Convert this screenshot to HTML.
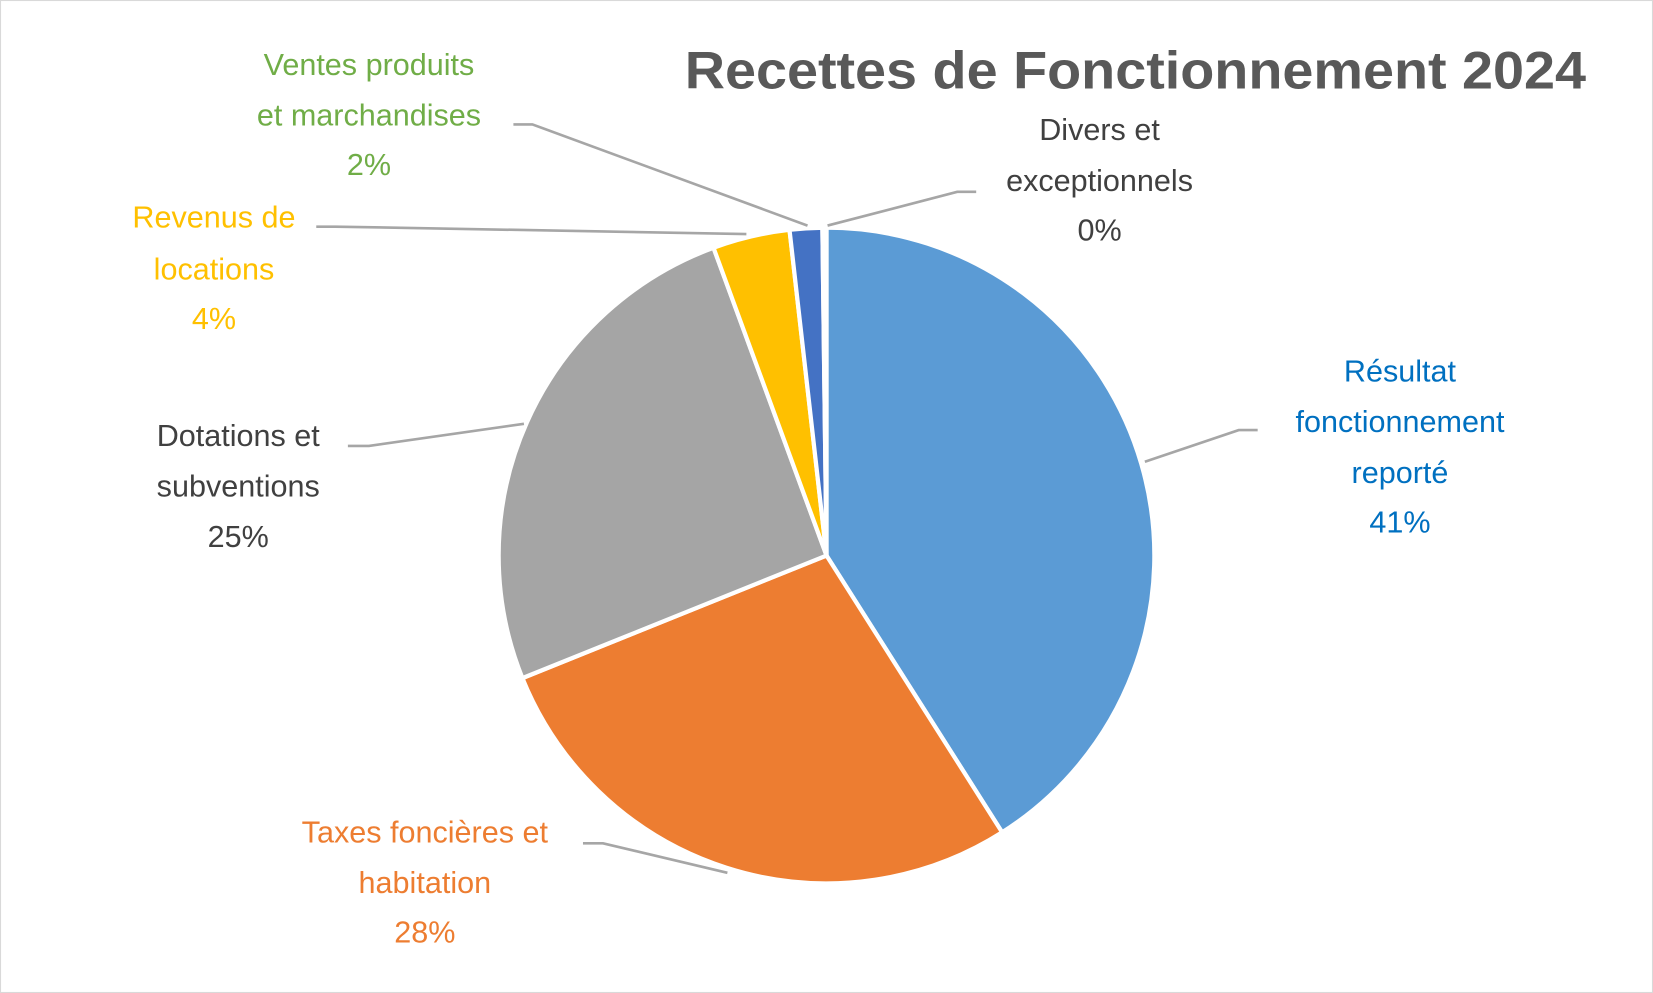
<!DOCTYPE html>
<html><head><meta charset="utf-8"><style>
html,body{margin:0;padding:0;background:#fff;}
svg{display:block;}
text{font-family:"Liberation Sans",sans-serif;}
</style></head><body>
<svg id="chart" width="1653" height="993" viewBox="0 0 1568 942" preserveAspectRatio="none" xmlns="http://www.w3.org/2000/svg">
<rect x="0.5" y="0.5" width="1567" height="941" fill="#fff" stroke="#d9d9d9" stroke-width="1"/>
<text x="1077" y="84" text-anchor="middle" font-size="50" font-weight="bold" fill="#595959" textLength="855" lengthAdjust="spacingAndGlyphs">Recettes de Fonctionnement 2024</text>
<g id="slices"></g>
<g id="leaders" fill="none" stroke="#a6a6a6" stroke-width="2.5">
<polyline points="487,118 505,118 766,214"/>
<polyline points="300,215 318,215 708,222"/>
<polyline points="330,423 350,423 497,402"/>
<polyline points="553,800 572,800 690,828"/>
<polyline points="926,182 908,182 785,214"/>
<polyline points="1193,408 1175,408 1086,438"/>
</g>
<g font-size="29" text-anchor="middle">
<text fill="#70AD47"><tspan x="350" y="71">Ventes produits</tspan><tspan x="350" y="119">et marchandises</tspan><tspan x="350" y="166">2%</tspan></text>
<text fill="#FFC000"><tspan x="203" y="216">Revenus de</tspan><tspan x="203" y="265">locations</tspan><tspan x="203" y="312">4%</tspan></text>
<text fill="#404040"><tspan x="226" y="423">Dotations et</tspan><tspan x="226" y="471">subventions</tspan><tspan x="226" y="519">25%</tspan></text>
<text fill="#ED7D31"><tspan x="403" y="799">Taxes foncières et</tspan><tspan x="403" y="847">habitation</tspan><tspan x="403" y="894">28%</tspan></text>
<text fill="#404040"><tspan x="1043" y="133">Divers et</tspan><tspan x="1043" y="181">exceptionnels</tspan><tspan x="1043" y="228">0%</tspan></text>
<text fill="#0070C0"><tspan x="1328" y="362">Résultat</tspan><tspan x="1328" y="410">fonctionnement</tspan><tspan x="1328" y="458">reporté</tspan><tspan x="1328" y="505">41%</tspan></text>
</g>
</svg>
<script>
const categories = ["Résultat fonctionnement reporté","Taxes foncières et habitation","Dotations et subventions","Revenus de locations","Ventes produits et marchandises","Divers et exceptionnels"];
const values = [41.0, 27.9, 25.5, 3.8, 1.6, 0.2];
const sliceNames = ["slice-resultat","slice-taxes","slice-dotations","slice-revenus","slice-ventes","slice-divers"];
const colors = ["#5B9BD5","#ED7D31","#A5A5A5","#FFC000","#4472C4","#255E91"];
const cx = 784, cy = 527, r = 311;
const total = values.reduce((a,b)=>a+b,0);
const g = document.getElementById('slices');
function pt(a){ return [cx + r*Math.sin(a), cy - r*Math.cos(a)]; }
let acc = 0;
values.forEach((v,i)=>{
  const a0 = acc/total*2*Math.PI; acc += v;
  const a1 = acc/total*2*Math.PI;
  const p0 = pt(a0), p1 = pt(a1);
  const large = (a1-a0) > Math.PI ? 1 : 0;
  const path = document.createElementNS('http://www.w3.org/2000/svg','path');
  path.setAttribute('d', `M${cx},${cy} L${p0[0]},${p0[1]} A${r},${r} 0 ${large} 1 ${p1[0]},${p1[1]} Z`);
  path.setAttribute('fill', colors[i]);
  path.setAttribute('stroke', '#fff');
  path.setAttribute('stroke-width', '4');
  path.setAttribute('stroke-linejoin', 'round');
  
  
  g.appendChild(path);
});
</script>
</body></html>
